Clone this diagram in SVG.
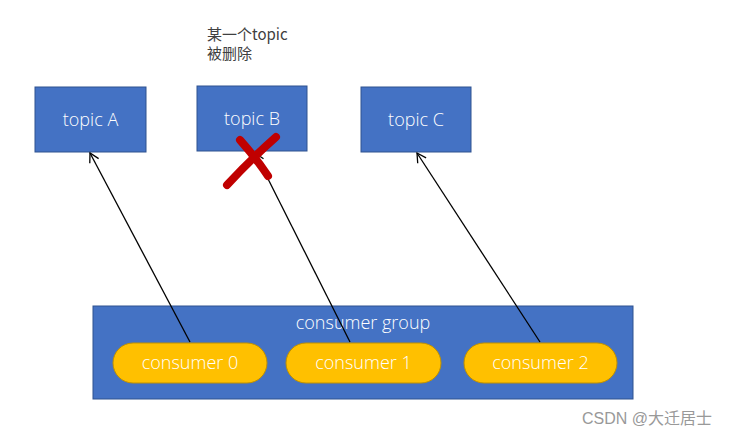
<svg xmlns="http://www.w3.org/2000/svg" width="733" height="437" viewBox="0 0 733 437">
<style>
.box{fill:#4472c4;stroke:#2f528f;stroke-width:1}
.pill{fill:#ffc000;stroke:#bf9000;stroke-width:1}
.wt{font-family:"Segoe UI","Open Sans","Noto Sans",sans-serif;font-size:18px;fill:#ffffff;text-anchor:middle;font-weight:300}
.note{font-family:"Noto Sans CJK SC","Noto Sans",sans-serif;font-size:15px;fill:#404040}
.conn{stroke:#000000;stroke-width:1.3;fill:none;marker-end:url(#arr)}
</style>
<defs>
<marker id="arr" markerWidth="12" markerHeight="12" refX="10" refY="6" orient="auto" markerUnits="userSpaceOnUse">
<path d="M1,1 L10,6 L1,11" fill="none" stroke="#000" stroke-width="1.3"/>
</marker>
</defs>
<rect width="733" height="437" fill="#ffffff"/>
<g id="note"><text class="note" x="207" y="40">某一个topic</text><text class="note" x="207" y="59">被删除</text></g>
<g id="topicA"><rect class="box" x="35" y="87" width="111" height="65"/><text class="wt" x="90.5" y="126">topic A</text></g>
<g id="topicB"><rect class="box" x="197" y="86" width="110" height="65"/><text class="wt" x="252" y="125">topic B</text></g>
<g id="topicC"><rect class="box" x="361" y="87" width="110" height="65"/><text class="wt" x="416" y="126">topic C</text></g>
<g id="group"><rect class="box" x="93" y="306" width="540" height="93"/><text class="wt" x="363" y="329">consumer group</text></g>
<g id="c0"><rect class="pill" x="113" y="343" width="154" height="40" rx="20"/><text class="wt" x="190" y="369">consumer 0</text></g>
<g id="c1"><rect class="pill" x="286" y="343" width="155" height="40" rx="20"/><text class="wt" x="363.5" y="369">consumer 1</text></g>
<g id="c2"><rect class="pill" x="464" y="343" width="153" height="40" rx="20"/><text class="wt" x="540.5" y="369">consumer 2</text></g>
<g id="connectors">
<line class="conn" x1="190" y1="342" x2="90" y2="153"/>
<line class="conn" x1="350" y1="342" x2="255" y2="153"/>
<line class="conn" x1="540" y1="342" x2="417" y2="153"/>
</g>
<g id="cross" stroke="#c00000" stroke-linecap="round" fill="none">
<path d="M227,185 Q250,160 276,137" stroke-width="8"/>
<path d="M240,140 Q256,158 268,176" stroke-width="8"/>
</g>
<text x="582" y="424" font-family="'Liberation Sans','Noto Sans CJK SC',sans-serif" font-size="16" fill="#999999">CSDN @大迁居士</text>
</svg>
